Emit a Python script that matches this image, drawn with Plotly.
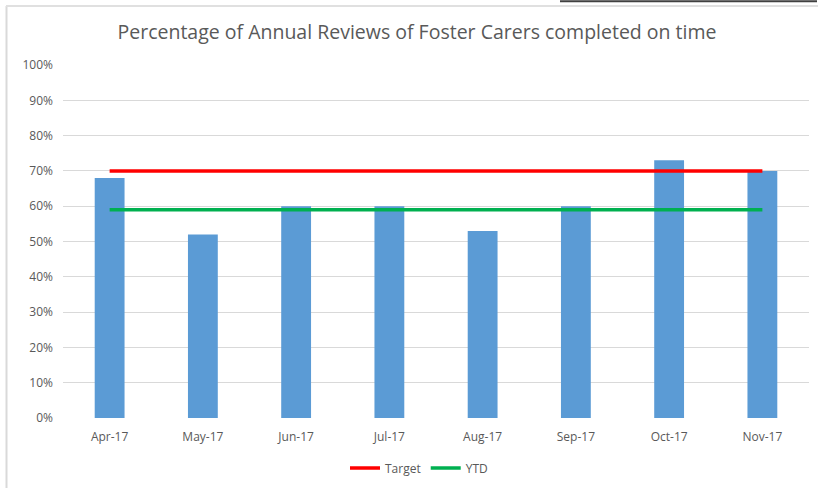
import plotly.graph_objects as go

months = ["Apr-17", "May-17", "Jun-17", "Jul-17", "Aug-17", "Sep-17", "Oct-17", "Nov-17"]
completed = [0.68, 0.52, 0.60, 0.60, 0.53, 0.60, 0.73, 0.70]
target = [0.70] * 8
ytd = [0.59] * 8
y_ticks = [0, 0.1, 0.2, 0.3, 0.4, 0.5, 0.6, 0.7, 0.8, 0.9, 1.0]

W, H = 818, 488
L, R, T, B = 63, 9, 65, 70
pw, ph = W - L - R, H - T - B

def px_x(p):
    return (p - L) / pw

def px_y(p):
    return (H - B - p) / ph

fig = go.Figure()
fig.add_trace(go.Bar(x=months, y=completed, name="Completed", marker=dict(color="#5B9BD5", line=dict(width=0)),
                     width=0.32, showlegend=False))
fig.add_trace(go.Scatter(x=months, y=target, name="Target", mode="lines",
                         line=dict(color="#FF0000", width=3.5)))
fig.add_trace(go.Scatter(x=months, y=ytd, name="YTD", mode="lines",
                         line=dict(color="#00B050", width=3.5)))

fig.update_layout(
    width=W, height=H,
    margin=dict(l=L, r=R, t=T, b=B, autoexpand=False),
    paper_bgcolor="white", plot_bgcolor="white",
    font=dict(family="Open Sans", color="#595959", size=12),
    title=dict(text="Percentage of Annual Reviews of Foster Carers completed on time",
               x=(417) / W, xanchor="center", y=1 - 32 / H, yanchor="middle",
               font=dict(size=19.5, color="#595959", family="Open Sans")),
    xaxis=dict(showgrid=False, ticks="", showline=False, tickfont=dict(size=12), zeroline=False,
               ticklabelstandoff=10),
    yaxis=dict(range=[0, 1], tickvals=y_ticks, tickformat=".0%", showgrid=True, gridcolor="#D9D9D9",
               gridwidth=1, zeroline=False, showline=False, tickfont=dict(size=12),
               ticklabelstandoff=9),
    legend=dict(orientation="h", x=px_x(419), xanchor="center", yref="container", y=1 - 468 / H,
                yanchor="middle", font=dict(size=12), itemwidth=30, traceorder="normal"),
    bargap=0.68,
    shapes=[
        dict(type="line", xref="paper", yref="paper", x0=px_x(6.5), x1=px_x(6.5), y0=px_y(6), y1=px_y(490),
             line=dict(color="#D9D9D9", width=2)),
        dict(type="line", xref="paper", yref="paper", x0=px_x(6), x1=px_x(820), y0=px_y(6), y1=px_y(6),
             line=dict(color="#E0E0E0", width=2)),
        dict(type="line", xref="paper", yref="paper", x0=px_x(560), x1=px_x(817), y0=px_y(1.2), y1=px_y(1.2),
             line=dict(color="#404040", width=2)),
    ],
)
fig.write_html("out.html", config={"displayModeBar": False},
               post_script="document.body.style.margin='0';document.body.style.overflow='hidden';")
